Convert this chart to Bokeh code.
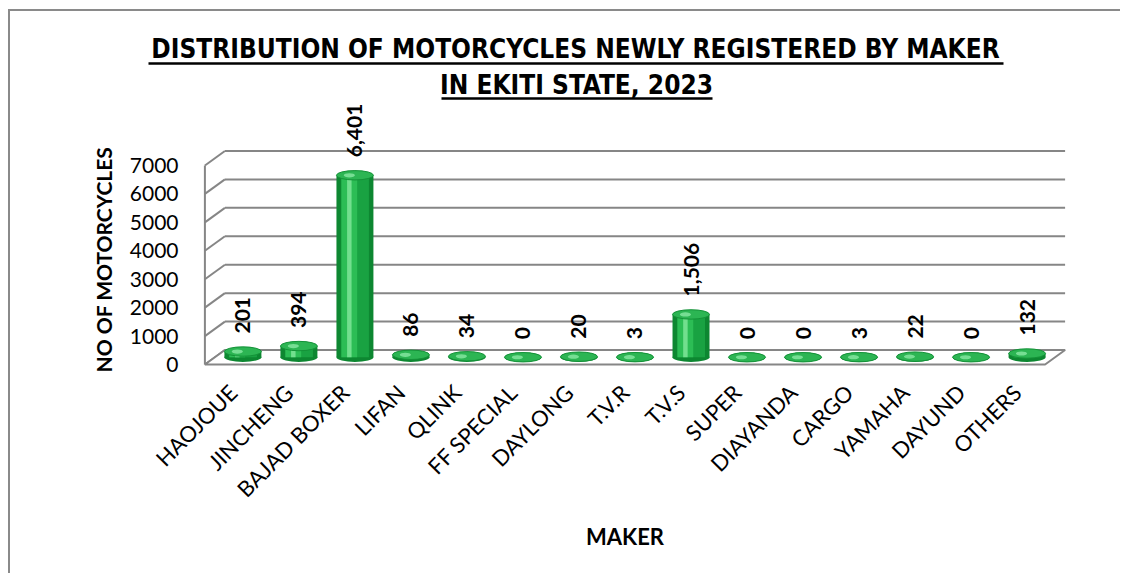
import math
from bokeh.plotting import figure
from bokeh.layouts import column
from bokeh.models import ColumnDataSource, FactorRange, FixedTicker, Range1d, Title
from bokeh.transform import dodge
from bokeh.core.properties import value
from bokeh.embed import file_html
from bokeh.resources import INLINE

# ---------------- data ----------------
makers = ["HAOJOUE", "JINCHENG", "BAJAD BOXER", "LIFAN", "QLINK", "FF SPECIAL",
          "DAYLONG", "T.V.R", "T.V.S", "SUPER", "DIAYANDA", "CARGO", "YAMAHA",
          "DAYUND", "OTHERS"]
registered = [201, 394, 6401, 86, 34, 0, 20, 3, 1506, 0, 0, 3, 22, 0, 132]
y_ticks = [0, 1000, 2000, 3000, 4000, 5000, 6000, 7000]
title_lines = ["DISTRIBUTION OF MOTORCYCLES NEWLY REGISTERED BY MAKER",
               "IN EKITI STATE, 2023"]
x_title = "MAKER"
y_title = "NO OF MOTORCYCLES"

# ---------------- layout ----------------
OX, OY = 10, 11                               # page position of canvas origin
W = 1110
TH = 89                                       # title strip height
H = 562 - TH                                  # chart height
FL, FR, FT, FB = 172, 1057, 0, 372 - OY - TH  # chart frame edges (canvas px)
PAD = 0.4
n = len(makers)
PX_UNIT = 0.02843                             # px per motorcycle
Y0 = 364 - OY - TH                            # canvas px of front-plane zero
y_start = -(FB - Y0) / PX_UNIT
y_end = y_start + (FB - FT) / PX_UNIT
DX = 0.357                                    # depth offset (categories)
DY = 510                                      # depth offset (y units)
BASE = DY / 2

FONT = "Lato"
TFONT = "'DejaVu Sans Condensed', 'Noto Sans Condensed', 'Roboto'"
GRID = "#868686"

# ---------------- title strip ----------------
tp = figure(width=W, height=TH, x_range=Range1d(0, W), y_range=Range1d(TH, 0),
            x_axis_type=None, y_axis_type=None, output_backend="svg",
            toolbar_location=None, min_border=0)
tp.frame_align = False
tp.outline_line_color = None
tp.grid.visible = False
tp.text(x=[575 - OX, 576 - OX], y=[48 - OY, 84 - OY], text=title_lines,
        text_align="center", text_baseline="middle", text_font=value(TFONT),
        text_font_style="bold", text_font_size="26px", text_color="black")
tp.segment(x0=[148 - OX, 441 - OX], x1=[1003 - OX, 712 - OX],
           y0=[63 - OY, 98 - OY], y1=[63 - OY, 98 - OY],
           line_color="black", line_width=2.5)

# ---------------- chart ----------------
p = figure(width=W, height=H, x_range=FactorRange(*makers, range_padding=PAD,
           range_padding_units="absolute"), y_range=(y_start, y_end),
           output_backend="svg", toolbar_location=None,
           min_border_left=FL, min_border_right=W - FR, min_border_top=FT,
           min_border_bottom=H - FB)
p.frame_align = False
p.outline_line_color = None
p.xgrid.visible = False
p.ygrid.visible = False

# walls
p.segment(x0=[DX] * len(y_ticks), x1=[n + DX] * len(y_ticks),
          y0=[t + DY for t in y_ticks], y1=[t + DY for t in y_ticks],
          line_color=GRID, line_width=2)
p.segment(x0=[0] * len(y_ticks), x1=[DX] * len(y_ticks),
          y0=y_ticks, y1=[t + DY for t in y_ticks], line_color=GRID, line_width=2)
p.segment(x0=[0], x1=[0], y0=[0], y1=[y_ticks[-1]], line_color=GRID, line_width=2)
p.patch(x=[0, n, n + DX, DX], y=[0, 0, DY, DY], fill_color="white",
        line_color=GRID, line_width=2)

# bars
src = ColumnDataSource(dict(
    maker=makers,
    val=registered,
    bottom=[BASE] * n,
    top=[v + BASE for v in registered],
    label=[f"{v:,}" for v in registered],
))
xb = dodge("maker", DX / 2, range=p.x_range)
xh = dodge("maker", DX / 2 - 0.1, range=p.x_range)
EH = 330
p.ellipse(x=xb, y="bottom", width=0.66, height=EH, source=src,
          fill_color="#0d8731", line_color=None)
p.vbar(x=xb, bottom="bottom", top="top", width=0.66, source=src,
       fill_color="#0d8731", line_color=None)
p.vbar(x=xb, bottom="bottom", top="top", width=0.5, source=src,
       fill_color="#19a242", line_color=None)
p.vbar(x=xh, bottom="bottom", top="top", width=0.28, source=src,
       fill_color="#2cbd55", line_color=None)
p.vbar(x=xh, bottom="bottom", top="top", width=0.08, source=src,
       fill_color="#72df8e", line_color=None)
p.ellipse(x=xb, y="top", width=0.66, height=EH, source=src,
          fill_color="#2cb553", line_color="#149238", line_width=1)
p.ellipse(x=xh, y="top", width=0.2, height=EH * 0.45, source=src,
          fill_color="#8ae8a4", line_color=None, alpha=0.8)

p.text(x=xb, y="top", text="label", source=src, angle=math.pi / 2,
       text_align="left", text_baseline="middle", y_offset=-18,
       text_font=value(FONT), text_font_style="bold", text_font_size="21px",
       text_color="black")

# axes
xa = p.xaxis[0]
xa.axis_line_color = None
xa.major_tick_line_color = None
xa.major_tick_out = 0
xa.major_label_orientation = math.pi / 4
xa.major_label_standoff = 16
xa.major_label_text_font = FONT
xa.major_label_text_font_size = "22px"
xa.major_label_text_color = "black"
xa.axis_label = x_title
xa.axis_label_text_font = FONT
xa.axis_label_text_font_style = "bold"
xa.axis_label_text_font_size = "22px"
xa.axis_label_text_color = "black"
xa.axis_label_standoff = 8

ya = p.yaxis[0]
ya.ticker = FixedTicker(ticks=y_ticks)
ya.axis_line_color = None
ya.major_tick_line_color = None
ya.minor_tick_line_color = None
ya.major_tick_out = 0
ya.major_label_standoff = 4
ya.major_label_text_font = FONT
ya.major_label_text_font_size = "21px"
ya.major_label_text_color = "black"

p.add_layout(Title(text=y_title, align="left", standoff=21, text_font=FONT,
                   text_font_style="bold", text_font_size="21px",
                   text_color="black"), "left")

layout = column(tp, p, spacing=0)
layout.styles = {"border-top": "2px solid #8a8a8a", "border-left": "2px solid #8a8a8a",
                 "margin-left": "8px", "margin-top": "9px"}

open("out.html", "w").write(file_html(layout, INLINE))
